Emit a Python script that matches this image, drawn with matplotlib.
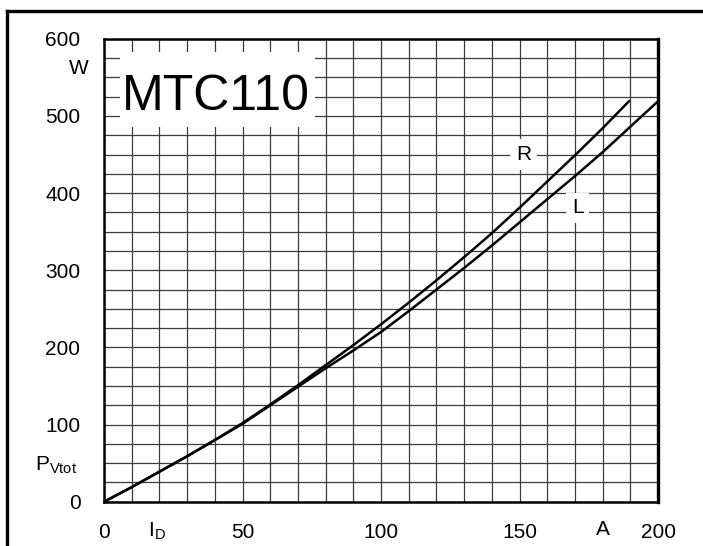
import numpy as np
import matplotlib.pyplot as plt
from matplotlib.lines import Line2D
from matplotlib.patches import Rectangle
from matplotlib.ticker import MultipleLocator

plt.rcParams['font.family'] = ['Liberation Sans', 'DejaVu Sans']

# Power dissipation curves
current_R = [0, 10, 20, 30, 40, 50, 60, 70, 80, 90, 100, 110, 120, 130, 140, 150, 160, 170, 180, 189.5]
power_R = [0, 19, 39, 59, 80, 102, 126, 151, 177, 203, 230, 258, 287, 317, 348, 381, 415, 449, 484, 519]

current_L = [0, 10, 20, 30, 40, 50, 60, 70, 80, 90, 100, 110, 120, 130, 140, 150, 160, 170, 180, 190, 200]
power_L = [0, 19, 39, 59, 80, 101, 125, 149, 173, 196, 220, 247, 275, 303, 332, 362, 392, 422, 453, 486, 519]

x_ticks = [0, 50, 100, 150, 200]
y_ticks = [0, 100, 200, 300, 400, 500, 600]

fig = plt.figure(figsize=(7.03, 5.46), dpi=100)
ax = fig.add_axes([0.148, 0.081, 0.788, 0.848])

ax.plot(current_R, power_R, color='black', lw=1.8, zorder=3)
ax.plot(current_L, power_L, color='black', lw=1.8, zorder=3)

ax.set_xlim(0, 200)
ax.set_ylim(0, 600)
ax.set_xticks(x_ticks)
ax.set_yticks(y_ticks)
ax.xaxis.set_minor_locator(MultipleLocator(10))
ax.yaxis.set_minor_locator(MultipleLocator(25))
ax.tick_params(which='both', length=0, labelsize=15)
ax.tick_params(axis='y', pad=17)
ax.tick_params(axis='x', pad=15)
ax.set_axisbelow(True)
ax.grid(which='both', color='#3c3c3c', lw=0.9)
for s in ax.spines.values():
    s.set_linewidth(1.8)
ax.spines['right'].set_linewidth(2.4)

# white patch behind the type name
ax.add_patch(Rectangle((0.029, 0.81), 0.352, 0.162, transform=ax.transAxes,
                       facecolor='white', edgecolor='none', zorder=2))
ax.text(6.5, 508, 'MTC110', fontsize=36, ha='left', va='baseline', zorder=4)

box = dict(facecolor='white', edgecolor='none', pad=4)
ax.text(151.5, 450, 'R', fontsize=15, ha='center', va='center', bbox=box, zorder=4)
ax.text(171, 381, 'L', fontsize=15, ha='center', va='center', bbox=box, zorder=4)

# axis units / names
ax.text(-5.4, 562, 'W', fontsize=15, ha='right', va='center', clip_on=False)
ax.text(-25, 41, r'P$_{\mathregular{Vtot}}$', fontsize=15, ha='left', va='baseline', clip_on=False)
ax.text(16, -45, r'I$_{\mathregular{D}}$', fontsize=15, ha='left', va='baseline', clip_on=False)
ax.text(180, -36, 'A', fontsize=15, ha='center', va='center', clip_on=False)

# outer frame (left and top edges)
fig.add_artist(Line2D([0.01, 0.01], [0.0, 0.98], color='black', lw=2.4, transform=fig.transFigure))
fig.add_artist(Line2D([0.01, 1.0], [0.98, 0.98], color='black', lw=2.4, transform=fig.transFigure))

fig.savefig('out.png', dpi=100)
